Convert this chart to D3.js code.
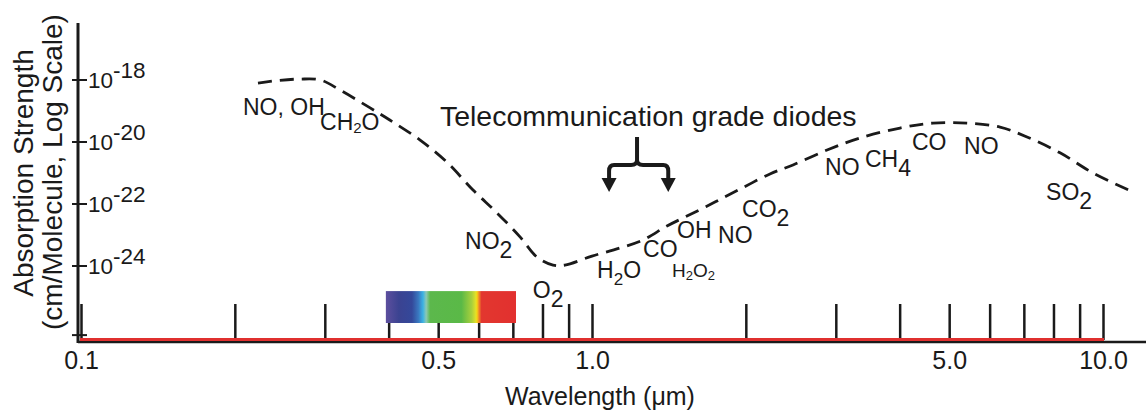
<!DOCTYPE html>
<html>
<head>
<meta charset="utf-8">
<script src="https://cdn.jsdelivr.net/npm/d3@7"></script>
<style>
  html, body { margin: 0; padding: 0; background: #ffffff; }
  svg { display: block; }
  text { font-family: "Liberation Sans", Arial, Helvetica, sans-serif; fill: #1a1a1a; }
</style>
</head>
<body>
<svg id="chart" width="1146" height="411"></svg>
<script>
// ---------------- data ----------------
const curveWavelength = [0.222, 0.245, 0.268, 0.294, 0.321, 0.368, 0.402, 0.461, 0.520, 0.585,
  0.652, 0.723, 0.780, 0.839, 0.885, 1.00, 1.134, 1.259, 1.402, 1.534,
  1.725, 1.948, 2.23, 2.474, 2.884, 3.346, 4.006, 4.649, 5.419, 6.287,
  7.10, 8.24, 9.56, 11.45];
const curveStrength = [7.94e-19, 9.77e-19, 1.07e-18, 1.0e-18, 4.79e-19, 1.26e-19, 5.13e-20, 1.15e-20, 2.24e-21, 2.82e-22,
  5.13e-23, 8.71e-24, 1.95e-24, 1.07e-24, 1.07e-24, 2.09e-24, 3.80e-24, 6.92e-24, 1.95e-23, 4.07e-23,
  1.07e-22, 3.02e-22, 9.33e-22, 1.82e-21, 5.50e-21, 1.35e-20, 2.82e-20, 4.07e-20, 4.07e-20, 3.02e-20,
  1.45e-20, 4.47e-21, 1.0e-21, 2.45e-22];

const xTickValues = [0.1, 0.2, 0.3, 0.4, 0.5, 0.6, 0.7, 0.8, 0.9, 1, 2, 3, 4, 5, 6, 7, 8, 9, 10];
const xTickLabels = {0.1: "0.1", 0.5: "0.5", 1: "1.0", 5: "5.0", 10: "10.0"};
const yTickValues = [1e-18, 1e-20, 1e-22, 1e-24, 5.9e-27];
const yTickExponents = ["-18", "-20", "-22", "-24", ""];

const moleculeNames = ["NO, OH", "CH_2O", "NO_2", "O_2", "H_2O", "CO", "OH", "H_2O_2", "NO", "CO_2", "NO", "CH_4", "CO", "NO", "SO_2"];
const moleculeWavelength = [0.2075, 0.2936, 0.5643, 0.766, 1.023, 1.259, 1.467, 1.434, 1.765, 1.966, 2.858, 3.421, 4.228, 5.346, 7.737];
const moleculeStrength = [7.41e-20, 2.45e-20, 3.55e-24, 9.33e-26, 4.07e-25, 1.95e-24, 7.94e-24, 4.47e-25, 5.50e-24, 3.80e-23, 8.71e-22, 1.55e-21, 5.50e-21, 4.07e-21, 1.35e-22];

const visibleBand = [0.395, 0.71];
const visibleBandStrength = [1.55e-25, 1.45e-26];

const telecomLabel = "Telecommunication grade diodes";
const telecomLabelAt = [0.504, 3.31e-20];
const telecomStem = [1.225, 1.45e-20];
const telecomArmStrength = 1.82e-21;
const telecomTips = [1.08, 1.41];
const telecomTipStrength = 2.45e-22;

// ---------------- drawing ----------------
const svg = d3.select("#chart");
const x = d3.scaleLog().domain([0.1, 10]).range([81, 1103]);
const y = d3.scaleLog().domain([1e-18, 1e-24]).range([80, 266]);
const axisX = 78, axisY = 342, redY = 339.5, yTop = 23;
const ink = "#1a1a1a";

// spectrum bar
const grad = svg.append("defs").append("linearGradient").attr("id", "spec")
  .attr("x1", "0%").attr("x2", "100%").attr("y1", "0%").attr("y2", "0%");
[[0, "#5d4f9e"], [0.1, "#3b4391"], [0.2, "#34489a"], [0.25, "#3a78c0"], [0.285, "#3bb2e4"],
 [0.31, "#8cc8b4"], [0.34, "#5cb84c"], [0.58, "#5ab947"], [0.66, "#a9d03c"], [0.69, "#e0e02a"],
 [0.7, "#f6d612"], [0.715, "#ef8a2a"], [0.735, "#e2372f"], [1, "#e2302f"]].forEach(s =>
  grad.append("stop").attr("offset", s[0]).attr("stop-color", s[1]));

// x ticks
const xAxis = d3.axisBottom(x).tickValues(xTickValues).tickSize(-36).tickPadding(11)
  .tickFormat(d => xTickLabels[d] || "");
const gx = svg.append("g").attr("transform", `translate(0,${redY + 0.5})`).call(xAxis);
gx.select(".domain").remove();
gx.selectAll(".tick line").attr("stroke", ink).attr("stroke-width", 2.5);
gx.selectAll(".tick text").attr("font-size", 25).attr("fill", ink)
  .attr("font-family", '"Liberation Sans", Arial, sans-serif');

svg.append("rect")
  .attr("x", x(visibleBand[0])).attr("width", x(visibleBand[1]) - x(visibleBand[0]))
  .attr("y", y(visibleBandStrength[0])).attr("height", y(visibleBandStrength[1]) - y(visibleBandStrength[0]))
  .attr("fill", "url(#spec)");

// x axis lines (black under red)
svg.append("line").attr("x1", axisX).attr("x2", 1146).attr("y1", axisY).attr("y2", axisY)
  .attr("stroke", ink).attr("stroke-width", 2.5);
svg.append("line").attr("x1", axisX + 2).attr("x2", x(10) + 1).attr("y1", redY).attr("y2", redY)
  .attr("stroke", "#e0302f").attr("stroke-width", 3);

// y axis
svg.append("line").attr("x1", axisX).attr("x2", axisX).attr("y1", yTop).attr("y2", axisY + 1)
  .attr("stroke", ink).attr("stroke-width", 3);
const gy = svg.append("g");
yTickValues.forEach((v, i) => {
  const ty = y(v);
  gy.append("line").attr("x1", 72).attr("x2", 87).attr("y1", ty).attr("y2", ty)
    .attr("stroke", ink).attr("stroke-width", 2);
  if (yTickExponents[i]) {
    const t = gy.append("text").attr("x", 88).attr("y", ty + 8).attr("font-size", 22.5);
    t.append("tspan").text("10");
    t.append("tspan").attr("dy", -10).text(yTickExponents[i]);
  }
});

// axis titles
svg.append("text").attr("transform", "translate(33,173) rotate(-90)")
  .attr("text-anchor", "middle").attr("font-size", 28).text("Absorption Strength");
svg.append("text").attr("transform", "translate(62,172) rotate(-90)")
  .attr("text-anchor", "middle").attr("font-size", 28).text("(cm/Molecule, Log Scale)");
svg.append("text").attr("x", 600).attr("y", 405).attr("text-anchor", "middle")
  .attr("font-size", 25).text("Wavelength (\u03bcm)");

// dashed absorption curve
const pts = curveWavelength.map((w, i) => [x(w), y(curveStrength[i])]);
svg.append("path").attr("d", d3.line().curve(d3.curveCatmullRom.alpha(0.5))(pts))
  .attr("fill", "none").attr("stroke", ink).attr("stroke-width", 2.8)
  .attr("stroke-dasharray", "14,8");

// molecule labels
const smallSubs = {"CH_2O": [15, 3], "H_2O": [17, 7], "H_2O_2": [13, 3]};
const mainSize = {"H_2O_2": 19};
moleculeNames.forEach((name, i) => {
  const fs = mainSize[name] || 23;
  const sub = smallSubs[name] || [fs, 9];
  const t = svg.append("text").attr("x", x(moleculeWavelength[i])).attr("y", y(moleculeStrength[i]))
    .attr("font-size", fs);
  const parts = name.split(/(_\d)/).filter(p => p.length);
  let shifted = 0;
  parts.forEach(p => {
    if (p[0] === "_") {
      t.append("tspan").attr("font-size", sub[0]).attr("dy", sub[1] - shifted).text(p.slice(1));
      shifted = sub[1];
    } else {
      t.append("tspan").attr("dy", -shifted).text(p);
      shifted = 0;
    }
  });
});

// telecom annotation
svg.append("text").attr("x", x(telecomLabelAt[0])).attr("y", y(telecomLabelAt[1]))
  .attr("font-size", 28.5).text(telecomLabel);
const sx = x(telecomStem[0]), sTop = y(telecomStem[1]), armY = y(telecomArmStrength), tipY = y(telecomTipStrength);
const lx = x(telecomTips[0]), rx = x(telecomTips[1]);
const bracket = d3.path();
bracket.moveTo(sx, sTop); bracket.lineTo(sx, armY - 5);
bracket.quadraticCurveTo(sx, armY, sx - 6, armY); bracket.lineTo(lx + 5, armY);
bracket.quadraticCurveTo(lx, armY, lx, armY + 6); bracket.lineTo(lx, tipY - 12);
bracket.moveTo(sx, armY - 5);
bracket.quadraticCurveTo(sx, armY, sx + 6, armY); bracket.lineTo(rx - 5, armY);
bracket.quadraticCurveTo(rx, armY, rx, armY + 6); bracket.lineTo(rx, tipY - 12);
svg.append("path").attr("d", bracket.toString()).attr("fill", "none")
  .attr("stroke", ink).attr("stroke-width", 4).attr("stroke-linejoin", "round");
[lx, rx].forEach(ax => {
  svg.append("path").attr("d", `M${ax - 7.5},${tipY - 14}L${ax + 7.5},${tipY - 14}L${ax},${tipY}Z`)
    .attr("fill", ink);
});
</script>
</body>
</html>
